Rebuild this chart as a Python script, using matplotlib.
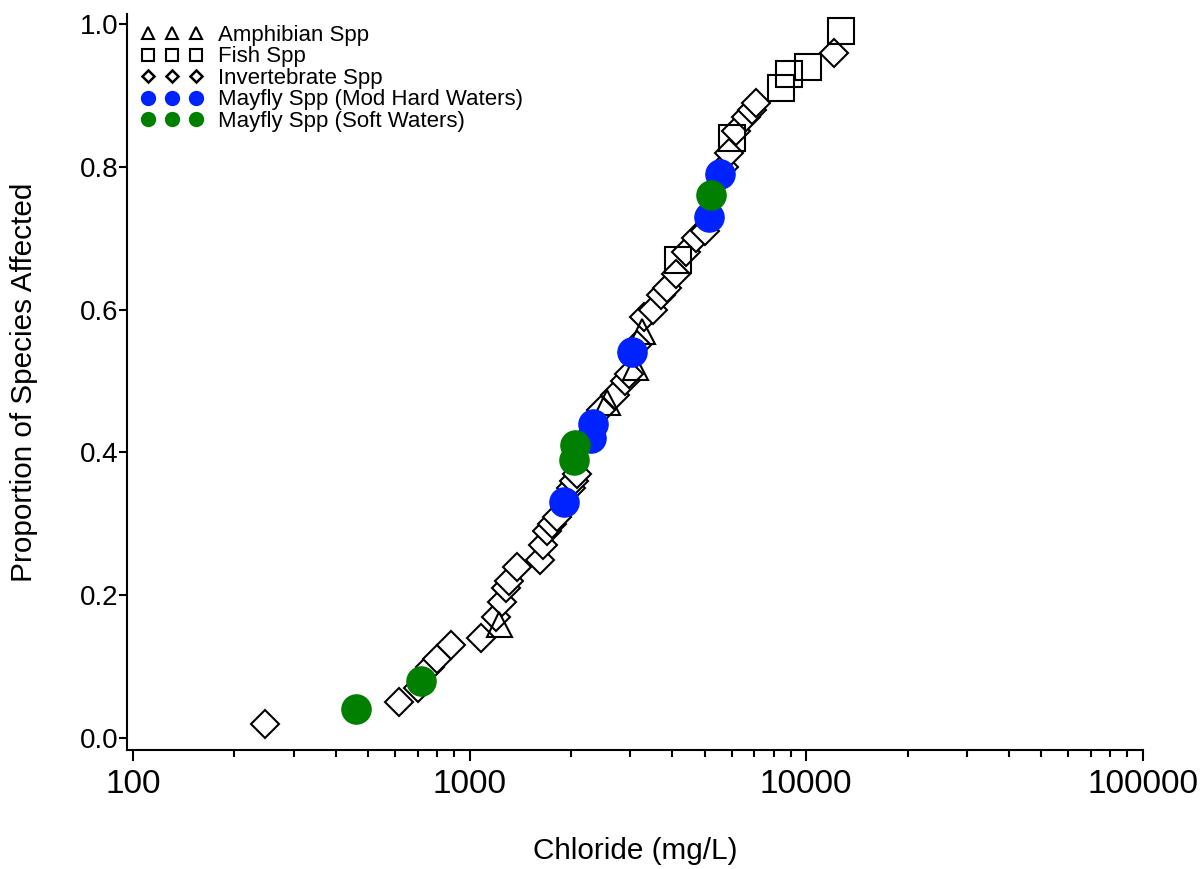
import matplotlib
matplotlib.use("Agg")
import matplotlib.pyplot as plt
from matplotlib.lines import Line2D
from matplotlib.ticker import FixedLocator, FixedFormatter, LogLocator, NullFormatter

plt.rcParams['font.family'] = ['Liberation Sans', 'DejaVu Sans']

# ---- data (chloride mg/L, proportion of species affected) ----
amph_x = [1220, 2550, 3100, 3250]
amph_y = [0.16, 0.47, 0.52, 0.57]

fish_x = [4160, 6000, 8440, 8890, 10140, 12700]
fish_y = [0.67, 0.84, 0.91, 0.93, 0.94, 0.99]

inv_x = [247, 615, 700, 760, 800, 880, 1080, 1200, 1250, 1280, 1310, 1380,
         1620, 1650, 1700, 1760, 1820, 2000, 2040, 2080, 2450, 2700, 2900,
         2980, 3150, 3300, 3500, 3700, 3850, 4100, 4400, 4700, 5000, 5700,
         5900, 6200, 6600, 6900, 7100, 12100]
inv_y = [0.02, 0.05, 0.07, 0.10, 0.11, 0.13, 0.14, 0.17, 0.19, 0.21, 0.22, 0.24,
         0.25, 0.27, 0.29, 0.30, 0.31, 0.35, 0.36, 0.37, 0.46, 0.48, 0.50,
         0.51, 0.55, 0.59, 0.60, 0.62, 0.63, 0.65, 0.68, 0.70, 0.71, 0.80,
         0.82, 0.85, 0.87, 0.88, 0.89, 0.96]

hard_x = [1905, 2290, 2320, 3034, 5140, 5545]
hard_y = [0.33, 0.42, 0.44, 0.54, 0.73, 0.79]

soft_x = [458, 715, 2042, 2060, 5213]
soft_y = [0.04, 0.08, 0.39, 0.41, 0.76]

labels = ["Amphibian Spp", "Fish Spp", "Invertebrate Spp",
          "Mayfly Spp (Mod Hard Waters)", "Mayfly Spp (Soft Waters)"]
x_ticks = [100, 1000, 10000, 100000]
x_ticklabels = ["100", "1000", "10000", "100000"]
y_ticks = [0.0, 0.2, 0.4, 0.6, 0.8, 1.0]
y_ticklabels = ["0.0", "0.2", "0.4", "0.6", "0.8", "1.0"]

BLUE = "#0022ff"
GREEN = "#007f00"

fig = plt.figure(figsize=(12.04, 8.69), dpi=100)
ax = fig.add_axes([127/1204, 1 - 750/869, (1143-127)/1204, (750-14)/869])

lw = 1.5
ax.plot(inv_x, inv_y, linestyle='none', marker='D', ms=14, mfc='white', mec='black', mew=lw, zorder=3)
ax.plot(amph_x, amph_y, linestyle='none', marker='^', ms=18, mfc='none', mec='black', mew=lw, zorder=4)
ax.plot(fish_x, fish_y, linestyle='none', marker='s', ms=19, mfc='none', mec='black', mew=lw, zorder=4)
ax.plot(hard_x, hard_y, linestyle='none', marker='o', ms=21, mfc=BLUE, mec=BLUE, zorder=5)
ax.plot(soft_x, soft_y, linestyle='none', marker='o', ms=21, mfc=GREEN, mec=GREEN, zorder=6)

ax.set_xscale('log')
ax.set_xlim(95.9, 100140)
ax.set_ylim(-0.0168, 1.0140)

ax.xaxis.set_major_locator(FixedLocator(x_ticks))
ax.xaxis.set_major_formatter(FixedFormatter(x_ticklabels))
ax.xaxis.set_minor_locator(LogLocator(base=10, subs=range(2, 10)))
ax.xaxis.set_minor_formatter(NullFormatter())
ax.yaxis.set_major_locator(FixedLocator(y_ticks))
ax.yaxis.set_major_formatter(FixedFormatter(y_ticklabels))

for s in ['top', 'right']:
    ax.spines[s].set_visible(False)
for s in ['left', 'bottom']:
    ax.spines[s].set_linewidth(lw)

ax.tick_params(axis='x', which='major', width=lw, length=8, labelsize=24, pad=6)
ax.tick_params(axis='x', which='minor', width=lw, length=5)
ax.tick_params(axis='y', which='major', width=lw, length=6, labelsize=20, pad=0)

ax.set_xlabel("Chloride (mg/L)", fontsize=21.4, labelpad=26)
ax.set_ylabel("Proportion of Species Affected", fontsize=21.4, labelpad=30)

handles = [
    Line2D([], [], linestyle='none', marker='^', ms=9, mfc='none', mec='black', mew=1.5),
    Line2D([], [], linestyle='none', marker='s', ms=8, mfc='none', mec='black', mew=1.5),
    Line2D([], [], linestyle='none', marker='D', ms=6, mfc='white', mec='black', mew=1.8),
    Line2D([], [], linestyle='none', marker='o', ms=10, mfc=BLUE, mec=BLUE),
    Line2D([], [], linestyle='none', marker='o', ms=10, mfc=GREEN, mec=GREEN),
]
leg = ax.legend(handles, labels, loc='upper left', bbox_to_anchor=(141/1204, 1 - 25/869),
                bbox_transform=fig.transFigure, frameon=False, numpoints=3,
                prop={'family': 'Liberation Sans', 'size': 16},
                handlelength=2.78, handletextpad=0.7, labelspacing=0.02,
                borderpad=0, borderaxespad=0)

fig.savefig("out.png", dpi=100, facecolor='white')
